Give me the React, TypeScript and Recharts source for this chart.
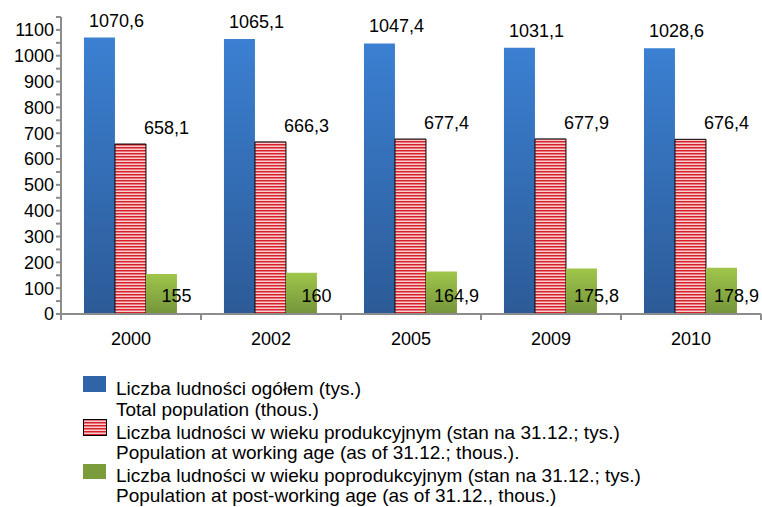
import React from "react";
import {
  BarChart,
  Bar,
  XAxis,
  YAxis,
  LabelList,
  Legend,
} from "recharts";

const years = ["2000", "2002", "2005", "2009", "2010"];
const totalPop = [1070.6, 1065.1, 1047.4, 1031.1, 1028.6];
const workingAge = [658.1, 666.3, 677.4, 677.9, 676.4];
const postWorkingAge = [155, 160, 164.9, 175.8, 178.9];
const yTicks = [
  0, 50, 100, 150, 200, 250, 300, 350, 400, 450, 500, 550, 600, 650, 700, 750,
  800, 850, 900, 950, 1000, 1050, 1100, 1150,
];
const legendLines = [
  ["Liczba ludności ogółem (tys.)", "Total population (thous.)"],
  [
    "Liczba ludności w wieku produkcyjnym (stan na 31.12.; tys.)",
    "Population at working age (as of 31.12.; thous.).",
  ],
  [
    "Liczba ludności w wieku poprodukcyjnym (stan na 31.12.; tys.)",
    "Population at post-working age (as of 31.12., thous.)",
  ],
];

const data = years.map((y, i) => ({
  year: y,
  total: totalPop[i],
  working: workingAge[i],
  post: postWorkingAge[i],
}));

const FONT = "'Liberation Sans', Arial, sans-serif";
const AXIS = "#8c8c8c";

const fmt = (v: number) => String(v).replace(".", ",");

function makeLabel(dx: number, mode: "top" | "bottom", dy: number) {
  return (props: any) => {
    const { x, y, width, height, value } = props;
    const cx = Number(x) + Number(width) / 2 + dx;
    const ty = mode === "top" ? Number(y) - dy : Number(y) + Number(height) - dy;
    return (
      <text
        x={cx}
        y={ty}
        textAnchor="middle"
        fontSize={18}
        fontFamily={FONT}
        fill="#000"
      >
        {fmt(value)}
      </text>
    );
  };
}

function XTick(props: any) {
  const { x, y, payload, index } = props;
  const half = 70;
  return (
    <g>
      <line x1={x - half} x2={x - half} y1={y - 8} y2={y - 2} stroke={AXIS} strokeWidth={2} />
      {index === years.length - 1 && (
        <line x1={x + half} x2={x + half} y1={y - 8} y2={y - 2} stroke={AXIS} strokeWidth={2} />
      )}
      <text x={x} y={y + 23} textAnchor="middle" fontSize={18} fontFamily={FONT} fill="#000">
        {payload.value}
      </text>
    </g>
  );
}

function LegendIcon({ kind }: { kind: number }) {
  if (kind === 1) {
    return (
      <svg width={24} height={17} style={{ display: "block" }}>
        <defs>
          <pattern id="legStripe" width="4" height="3" patternUnits="userSpaceOnUse">
            <rect width="4" height="3" fill="#f6cccc" />
            <rect width="4" height="1.5" fill="#d6202a" />
          </pattern>
        </defs>
        <rect x={0.5} y={0.5} width={23} height={16} fill="url(#legStripe)" stroke="#000" />
      </svg>
    );
  }
  return (
    <div
      style={{
        width: 23,
        height: kind === 0 ? 16 : 15,
        background: kind === 0 ? "#2f64a8" : "#7a9c3a",
      }}
    />
  );
}

function LegendBox() {
  const tops = [376, 419, 464];
  const firstBase = [395, 439, 482];
  const secondBase = [416, 459, 502];
  const lineStyle: React.CSSProperties = {
    position: "absolute",
    left: 116,
    fontSize: 19,
    lineHeight: "17px",
    whiteSpace: "nowrap",
    color: "#000",
  };
  return (
    <div style={{ position: "relative", width: 762, height: 507, fontFamily: FONT }}>
      {legendLines.map((lines, i) => (
        <React.Fragment key={i}>
          <div style={{ position: "absolute", left: 83, top: tops[i] }}>
            <LegendIcon kind={i} />
          </div>
          <div style={{ ...lineStyle, top: firstBase[i] - 15 }}>{lines[0]}</div>
          <div style={{ ...lineStyle, top: secondBase[i] - 15 }}>{lines[1]}</div>
        </React.Fragment>
      ))}
    </div>
  );
}

export default function App() {
  return (
    <div style={{ position: "absolute", left: 0, top: 0, width: 762, height: 507, background: "#fff" }}>
      <BarChart
        width={762}
        height={507}
        data={data}
        margin={{ top: 17, right: 1, left: 0, bottom: 163 }}
        barCategoryGap="16.4%"
        barGap={0}
      >
        <defs>
          <linearGradient id="blueGrad" x1="0" y1="0" x2="0" y2="1">
            <stop offset="0%" stopColor="#3b80d2" />
            <stop offset="100%" stopColor="#2c5b97" />
          </linearGradient>
          <linearGradient id="greenGrad" x1="0" y1="0" x2="0" y2="1">
            <stop offset="0%" stopColor="#9fc64a" />
            <stop offset="100%" stopColor="#74943a" />
          </linearGradient>
          <pattern id="redStripe" width="4" height="3" patternUnits="userSpaceOnUse">
            <rect width="4" height="3" fill="#f6cccc" />
            <rect width="4" height="1.5" fill="#d6202a" />
          </pattern>
        </defs>
        <XAxis
          dataKey="year"
          height={30}
          axisLine={{ stroke: AXIS, strokeWidth: 2 }}
          tickLine={false}
          tick={<XTick />}
          interval={0}
        />
        <YAxis
          width={61}
          domain={[0, 1150]}
          ticks={yTicks}
          interval={0}
          axisLine={{ stroke: AXIS, strokeWidth: 2 }}
          tickLine={{ stroke: AXIS, strokeWidth: 2 }}
          tickSize={5}
          tickFormatter={(v: number) => (v % 100 === 0 ? String(v) : "")}
          tick={{ fontSize: 18, fontFamily: FONT, fill: "#000" }}
        />
        <Legend
          layout="vertical"
          align="center"
          verticalAlign="middle"
          wrapperStyle={{ position: "absolute", left: 0, top: 0, width: 762, height: 507, pointerEvents: "none" }}
          content={() => <LegendBox />}
        />
        <Bar dataKey="total" fill="url(#blueGrad)" isAnimationActive={false}>
          <LabelList dataKey="total" content={makeLabel(17, "top", 11)} />
        </Bar>
        <Bar dataKey="working" fill="url(#redStripe)" stroke="#000" strokeWidth={1} isAnimationActive={false}>
          <LabelList dataKey="working" content={makeLabel(36, "top", 10)} />
        </Bar>
        <Bar dataKey="post" fill="url(#greenGrad)" isAnimationActive={false}>
          <LabelList dataKey="post" content={makeLabel(15, "bottom", 12)} />
        </Bar>
      </BarChart>
    </div>
  );
}
